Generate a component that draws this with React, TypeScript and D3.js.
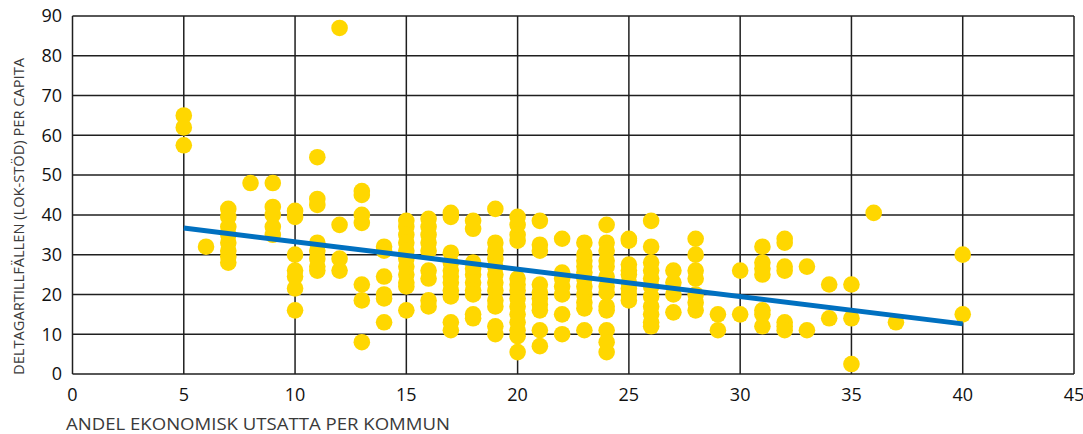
import React, { useRef, useEffect } from 'react';
import * as d3 from 'd3';

// andel ekonomiskt utsatta (x) och deltagartillfällen per capita (y), grupperade per x-värde
const shareValues = [5, 6, 7, 8, 9, 10, 11, 12, 13, 14, 15, 16, 17, 18, 19, 20, 21, 22, 23, 24, 25, 26, 27, 28, 29, 30, 31, 32, 33, 34, 35, 36, 37, 40];
const participationByShare = [
  [65, 62, 57.5],
  [32],
  [41.5, 39.5, 37, 35, 33, 31, 29.5, 28],
  [48],
  [48, 42, 40, 37, 35],
  [41, 39.5, 30, 26, 24.5, 21.5, 16],
  [54.5, 44, 42.5, 33, 31, 29, 27, 26],
  [87, 37.5, 29, 26],
  [46, 45, 40, 38, 22.5, 18.5, 8],
  [32, 31, 24.5, 20, 19, 13],
  [38.5, 37, 35, 33, 31, 29, 27, 25, 23, 22, 16],
  [39, 37, 35, 33, 31, 26, 24, 18.5, 17],
  [40.5, 39.5, 30.5, 28, 26, 24.5, 23, 21, 19.5, 13, 11],
  [38.5, 36.5, 28, 26.5, 25, 23, 21, 20, 15, 14],
  [41.5, 33, 31, 29, 27, 25, 23, 21, 18.5, 17, 12, 10],
  [39.5, 37.5, 35, 33.5, 24, 22.5, 21, 19, 17, 15, 13, 11, 9.5, 5.5],
  [38.5, 32.5, 31, 22.5, 20.5, 19, 17.5, 16, 11, 7],
  [34, 25.5, 24, 22, 20, 15, 10],
  [33, 30, 28.5, 27, 25.5, 24, 22, 20, 18, 16.5, 11],
  [37.5, 33, 31, 28.5, 27, 24.5, 22, 20.5, 17, 16, 11, 8, 5.5],
  [34, 33.5, 27.5, 26, 25, 23, 21.5, 20, 18.5],
  [38.5, 32, 28, 26, 24, 22, 19.5, 17, 15, 13, 12],
  [26, 23, 20, 15.5],
  [34, 30, 26, 24, 20, 18, 16],
  [15, 11],
  [26, 15],
  [32, 28, 26.5, 25, 16, 15, 12],
  [34, 33, 27, 26, 13, 12, 11],
  [27, 11],
  [22.5, 14],
  [22.5, 14, 2.5],
  [40.5],
  [13],
  [30, 15],
];

// linjär trendlinje
const trendX = [5, 40];
const trendY = [36.7, 12.6];

const xTicks = [0, 5, 10, 15, 20, 25, 30, 35, 40, 45];
const yTicks = [0, 10, 20, 30, 40, 50, 60, 70, 80, 90];

const xTitle = 'ANDEL EKONOMISK UTSATTA PER KOMMUN';
const yTitle = 'DELTAGARTILLFÄLLEN (LOK-STÖD) PER CAPITA';

const App = () => {
  const svgRef = useRef(null);

  useEffect(() => {
    if (!svgRef.current) return;
    const svg = d3.select(svgRef.current);
    svg.selectAll('*').remove();

    const width = 1083;
    const height = 434;
    const left = 72.5;
    const right = 1074;
    const top = 16;
    const bottom = 374;
    const font = '"Open Sans", "Noto Sans", sans-serif';

    const x = d3.scaleLinear().domain([0, 45]).range([left, right]);
    const y = d3.scaleLinear().domain([0, 90]).range([bottom, top]);

    svg.attr('width', width).attr('height', height);

    // grid
    svg.selectAll('.vgrid')
      .data(xTicks)
      .enter()
      .append('line')
      .attr('x1', d => x(d))
      .attr('x2', d => x(d))
      .attr('y1', top)
      .attr('y2', bottom)
      .attr('stroke', '#1f1f1f')
      .attr('stroke-width', 1.5);

    svg.selectAll('.hgrid')
      .data(yTicks)
      .enter()
      .append('line')
      .attr('x1', left)
      .attr('x2', right)
      .attr('y1', d => y(d))
      .attr('y2', d => y(d))
      .attr('stroke', '#1f1f1f')
      .attr('stroke-width', 1.5);

    // tick labels
    svg.selectAll('.xlabel')
      .data(xTicks)
      .enter()
      .append('text')
      .attr('x', d => x(d))
      .attr('y', 401)
      .attr('text-anchor', 'middle')
      .attr('font-family', font)
      .attr('font-size', 18)
      .attr('fill', '#111')
      .text(d => d);

    svg.selectAll('.ylabel')
      .data(yTicks)
      .enter()
      .append('text')
      .attr('x', 62)
      .attr('y', d => y(d))
      .attr('dy', '0.35em')
      .attr('text-anchor', 'end')
      .attr('font-family', font)
      .attr('font-size', 18)
      .attr('fill', '#111')
      .text(d => d);

    // axis titles
    svg.append('text')
      .attr('x', 66)
      .attr('y', 430)
      .attr('font-family', font)
      .attr('font-size', 17)
      .attr('fill', '#3a3a3a')
      .attr('textLength', 384)
      .attr('lengthAdjust', 'spacingAndGlyphs')
      .text(xTitle);

    svg.append('text')
      .attr('transform', 'translate(24, 375) rotate(-90)')
      .attr('font-family', font)
      .attr('font-size', 15)
      .attr('fill', '#3a3a3a')
      .attr('textLength', 317)
      .attr('lengthAdjust', 'spacingAndGlyphs')
      .text(yTitle);

    // points
    const points = shareValues.flatMap((s, i) => participationByShare[i].map(v => ({ s, v })));
    svg.selectAll('.dot')
      .data(points)
      .enter()
      .append('circle')
      .attr('cx', d => x(d.s))
      .attr('cy', d => y(d.v))
      .attr('r', 8.3)
      .attr('fill', '#FFD700');

    // trend line
    const line = d3.line<number>()
      .x(d => x(d))
      .y((d, i) => y(trendY[i]));
    svg.append('path')
      .attr('d', line(trendX))
      .attr('fill', 'none')
      .attr('stroke', '#0070C0')
      .attr('stroke-width', 5);
  }, []);

  return (
    <svg ref={svgRef} style={{ position: 'absolute', left: 0, top: 0 }}></svg>
  );
};

export default App;
